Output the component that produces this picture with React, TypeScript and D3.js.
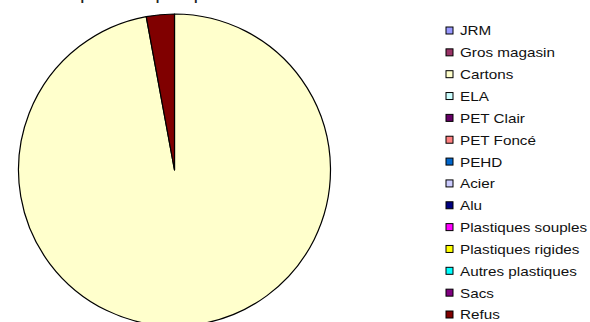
import React from "react";
import * as d3 from "d3";

const categories = [
  "JRM",
  "Gros magasin",
  "Cartons",
  "ELA",
  "PET Clair",
  "PET Foncé",
  "PEHD",
  "Acier",
  "Alu",
  "Plastiques souples",
  "Plastiques rigides",
  "Autres plastiques",
  "Sacs",
  "Refus",
];
const values = [0, 0, 97.1, 0, 0, 0, 0, 0, 0, 0, 0, 0, 0, 2.9];
const colors = [
  "#9999FF",
  "#993366",
  "#FFFFCC",
  "#CCFFFF",
  "#660066",
  "#FF8080",
  "#0066CC",
  "#CCCCFF",
  "#000080",
  "#FF00FF",
  "#FFFF00",
  "#00FFFF",
  "#800080",
  "#800000",
];
const title = "Répartition du poids par matériau";

export default function App() {
  const W = 590;
  const H = 322;
  const cx = 174.5;
  const cy = 170;
  const r = 156;
  const data = categories.map((c, i) => ({ c, v: values[i], color: colors[i] }));
  const pie = d3.pie<any>().sort(null).value((d) => d.v);
  const arcs = pie(data);
  const arc = d3.arc<any>().innerRadius(0).outerRadius(r);
  const legendY = d3
    .scalePoint<string>()
    .domain(categories)
    .range([31, 315]);
  return (
    <svg
      width={W}
      height={H}
      style={{ position: "fixed", left: 0, top: 0, background: "#fff" }}
      fontFamily="'Liberation Sans', Arial, sans-serif"
    >
      <text x={168} y={0} textAnchor="middle" fontSize={13} fontWeight="bold" fill="#222">
        {title}
      </text>
      <g transform={`translate(${cx},${cy})`}>
        {arcs
          .filter((a) => a.data.v > 0)
          .map((a, i) => (
            <path
              key={i}
              d={arc(a) || ""}
              fill={a.data.color}
              stroke="#000"
              strokeWidth={1.2}
              strokeLinejoin="round"
            />
          ))}
      </g>
      <g>
        {categories.map((c, i) => {
          const y = legendY(c) as number;
          return (
            <g key={c}>
              <rect
                x={446}
                y={y - 4}
                width={7}
                height={7}
                fill={colors[i]}
                stroke="#000"
                strokeWidth={1}
              />
              <text
                x={460}
                y={y + 4.5}
                fontSize={12.5}
                fill="#111"
                transform={`translate(460,0) scale(1.22,1) translate(-460,0)`}
              >
                {c}
              </text>
            </g>
          );
        })}
      </g>
    </svg>
  );
}
